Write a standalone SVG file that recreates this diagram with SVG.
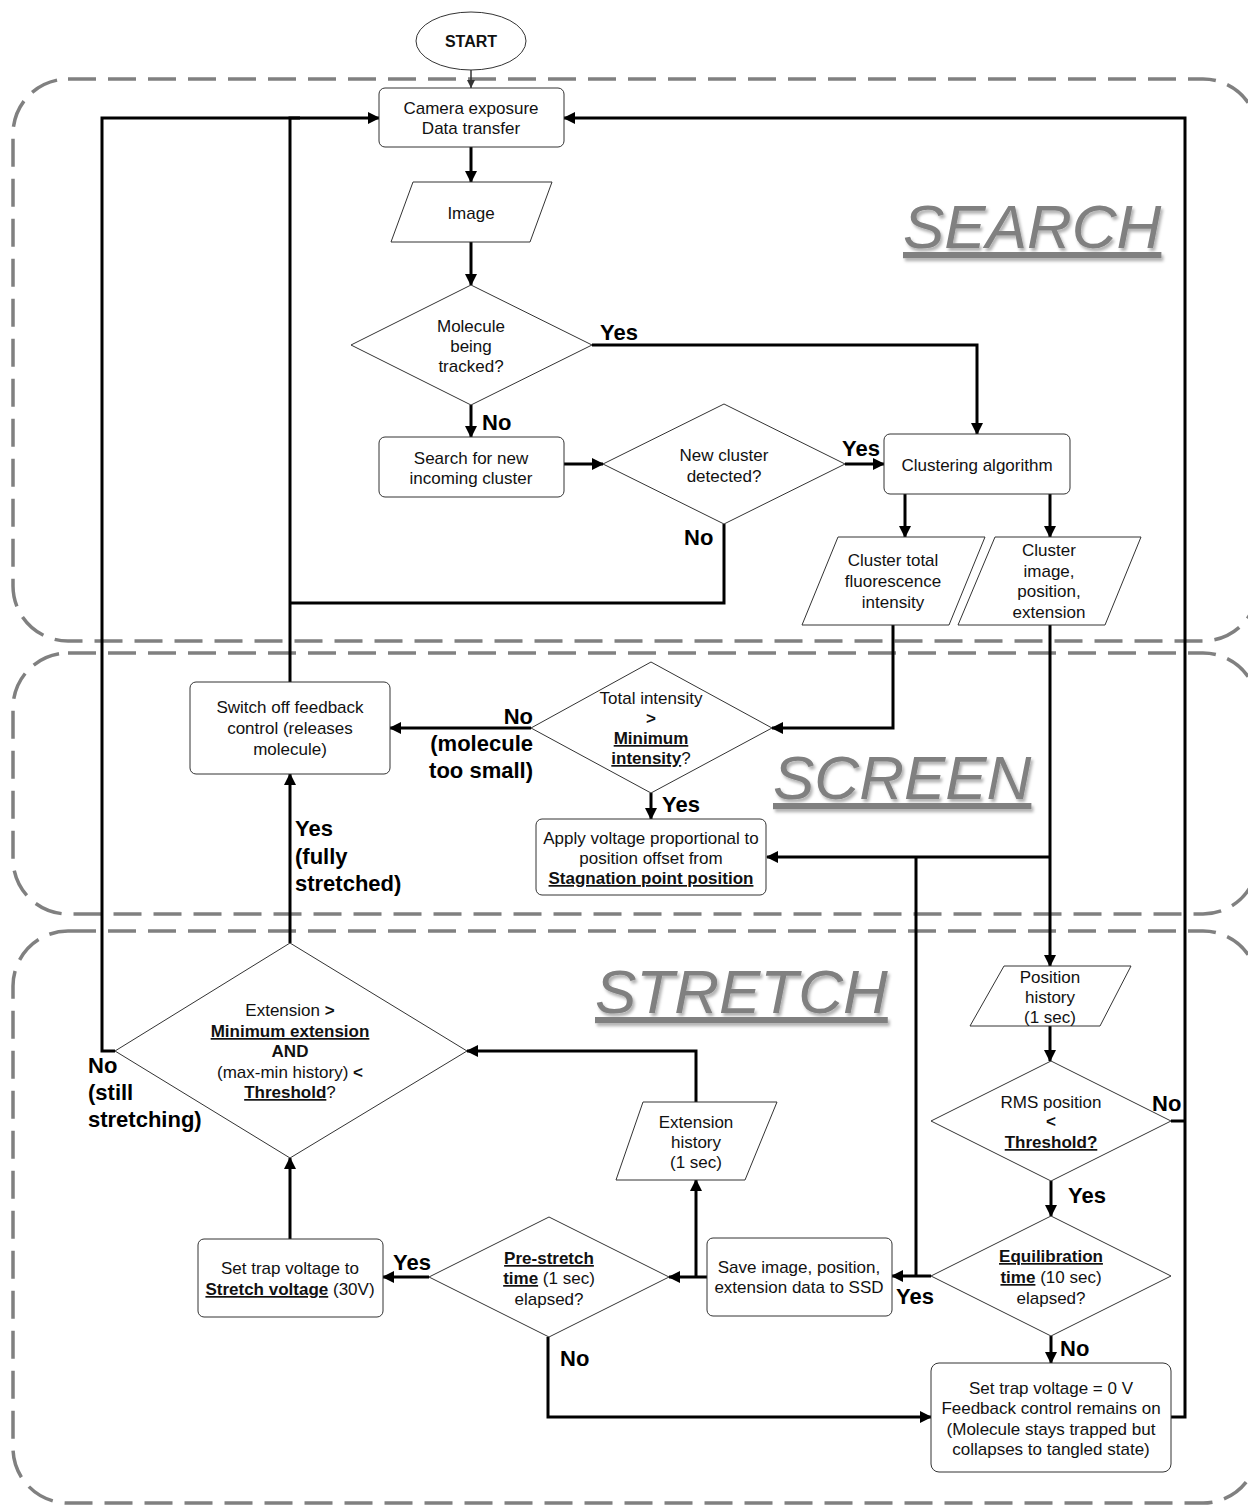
<svg xmlns="http://www.w3.org/2000/svg" width="1248" height="1505" viewBox="0 0 1248 1505">
<style>
.region{fill:none;stroke:#808080;stroke-width:3.5;stroke-dasharray:28 12}
.rlabel{font-family:"Liberation Sans",Arial,sans-serif;font-size:62px;font-style:italic;fill:#808080;text-decoration:underline}
.node{fill:#fff;stroke:#333;stroke-width:1}
.t{font-family:"Liberation Sans",Arial,sans-serif;font-size:17px;fill:#111;text-anchor:middle}
.b{font-weight:bold}
.u{text-decoration:underline}
.c{fill:none;stroke:#000;stroke-width:3}
.lbl{font-family:"Liberation Sans",Arial,sans-serif;font-size:22px;font-weight:bold;fill:#000}
</style>
<defs>
<marker id="ah" viewBox="0 0 12 12" refX="11" refY="6" markerWidth="12" markerHeight="12" markerUnits="userSpaceOnUse" orient="auto"><path d="M0,0 L12,6 L0,12 z" fill="#000"/></marker>
<marker id="ahs" viewBox="0 0 8 8" refX="8" refY="4" markerWidth="8" markerHeight="8" markerUnits="userSpaceOnUse" orient="auto"><path d="M0,0 L8,4 L0,8 z" fill="#333"/></marker>
<filter id="sh" x="-10%" y="-20%" width="130%" height="150%"><feDropShadow dx="2" dy="3" stdDeviation="1.5" flood-color="#000" flood-opacity="0.3"/></filter>
</defs>
<rect width="1248" height="1505" fill="#fff"/>
<g id="regions">
<rect class="region" x="13" y="79" width="1245" height="562" rx="55" ry="55"/>
<rect class="region" x="13" y="653" width="1245" height="261" rx="55" ry="55"/>
<rect class="region" x="13" y="931" width="1245" height="572" rx="55" ry="55"/>
<text class="rlabel" x="903" y="248" filter="url(#sh)">SEARCH</text>
<text class="rlabel" x="773" y="799" filter="url(#sh)">SCREEN</text>
<text class="rlabel" x="595" y="1013" filter="url(#sh)">STRETCH</text>
</g>
<g id="connectors">
<path d="M471,70 V88" fill="none" stroke="#333" stroke-width="1.5" marker-end="url(#ahs)"/>
<path class="c" d="M471,147 V182" marker-end="url(#ah)"/>
<path class="c" d="M471,242 V285" marker-end="url(#ah)"/>
<path class="c" d="M592,345 H977 V434" marker-end="url(#ah)"/>
<path class="c" d="M471,405 V437" marker-end="url(#ah)"/>
<path class="c" d="M564,464 H603" marker-end="url(#ah)"/>
<path class="c" d="M845,464 H884" marker-end="url(#ah)"/>
<path class="c" d="M724,524 V603 H290"/>
<path class="c" d="M905,494 V537" marker-end="url(#ah)"/>
<path class="c" d="M1050,494 V537" marker-end="url(#ah)"/>
<path class="c" d="M893,625 V728 H772" marker-end="url(#ah)"/>
<path class="c" d="M1050,625 V966" marker-end="url(#ah)"/>
<path class="c" d="M1050,857 H767" marker-end="url(#ah)"/>
<path class="c" d="M916,857 V1276"/>
<path class="c" d="M931,1276 H892" marker-end="url(#ah)"/>
<path class="c" d="M531,728 H390" marker-end="url(#ah)"/>
<path class="c" d="M651,793 V819" marker-end="url(#ah)"/>
<path class="c" d="M290,682 V118 H379" marker-end="url(#ah)"/>
<path class="c" d="M290,943 V774" marker-end="url(#ah)"/>
<path class="c" d="M115,1051 H102 V118 H300"/>
<path class="c" d="M1171,1121 H1185"/>
<path class="c" d="M1171,1417 H1185 V118 H564" marker-end="url(#ah)"/>
<path class="c" d="M1050,1026 V1061" marker-end="url(#ah)"/>
<path class="c" d="M1051,1181 V1216" marker-end="url(#ah)"/>
<path class="c" d="M1051,1336 V1363" marker-end="url(#ah)"/>
<path class="c" d="M548,1337 V1417 H931" marker-end="url(#ah)"/>
<path class="c" d="M707,1277 H669" marker-end="url(#ah)"/>
<path class="c" d="M696,1277 V1180" marker-end="url(#ah)"/>
<path class="c" d="M696,1102 V1051 H467" marker-end="url(#ah)"/>
<path class="c" d="M429,1277 H383" marker-end="url(#ah)"/>
<path class="c" d="M290,1239 V1158" marker-end="url(#ah)"/>
<text class="lbl" x="600" y="340">Yes</text>
<text class="lbl" x="482" y="430">No</text>
<text class="lbl" x="842" y="456">Yes</text>
<text class="lbl" x="684" y="545">No</text>
<text class="lbl" text-anchor="end"><tspan x="533" y="724">No</tspan><tspan x="533" y="751">(molecule</tspan><tspan x="533" y="778">too small)</tspan></text>
<text class="lbl" x="662" y="812">Yes</text>
<text class="lbl"><tspan x="295" y="836">Yes</tspan><tspan x="295" y="864">(fully</tspan><tspan x="295" y="891">stretched)</tspan></text>
<text class="lbl"><tspan x="88" y="1073">No</tspan><tspan x="88" y="1100">(still</tspan><tspan x="88" y="1127">stretching)</tspan></text>
<text class="lbl" x="393" y="1270">Yes</text>
<text class="lbl" x="560" y="1366">No</text>
<text class="lbl" x="896" y="1304">Yes</text>
<text class="lbl" x="1068" y="1203">Yes</text>
<text class="lbl" x="1152" y="1111">No</text>
<text class="lbl" x="1060" y="1356">No</text>
</g>
<g id="start"><ellipse class="node" cx="471" cy="41" rx="55" ry="29"/><text class="t b" x="471" y="47" style="font-size:16px">START</text></g>
<g id="camera"><rect class="node" x="379" y="88" width="185" height="59" rx="6"/><text class="t"><tspan x="471" y="114">Camera exposure</tspan><tspan x="471" y="134">Data transfer</tspan></text></g>
<g id="image"><polygon class="node" points="413,182 552,182 530,242 391,242"/><text class="t" x="471" y="219">Image</text></g>
<g id="tracked"><polygon class="node" points="471,285 592,345 471,405 351,345"/><text class="t"><tspan x="471" y="332">Molecule</tspan><tspan x="471" y="352">being</tspan><tspan x="471" y="372">tracked?</tspan></text></g>
<g id="search"><rect class="node" x="379" y="437" width="185" height="60" rx="6"/><text class="t"><tspan x="471" y="464">Search for new</tspan><tspan x="471" y="484">incoming cluster</tspan></text></g>
<g id="newcluster"><polygon class="node" points="724,404 845,464 724,524 603,464"/><text class="t"><tspan x="724" y="461">New cluster</tspan><tspan x="724" y="482">detected?</tspan></text></g>
<g id="clustering"><rect class="node" x="884" y="434" width="186" height="60" rx="6"/><text class="t" x="977" y="471">Clustering algorithm</text></g>
<g id="intensity"><polygon class="node" points="838,537 985,537 949,625 802,625"/><text class="t"><tspan x="893" y="566">Cluster total</tspan><tspan x="893" y="587">fluorescence</tspan><tspan x="893" y="608">intensity</tspan></text></g>
<g id="clusterdata"><polygon class="node" points="995,537 1141,537 1105,625 958,625"/><text class="t"><tspan x="1049" y="556">Cluster</tspan><tspan x="1049" y="577">image,</tspan><tspan x="1049" y="597">position,</tspan><tspan x="1049" y="618">extension</tspan></text></g>
<g id="switchoff"><rect class="node" x="190" y="682" width="200" height="92" rx="6"/><text class="t"><tspan x="290" y="713">Switch off feedback</tspan><tspan x="290" y="734">control (releases</tspan><tspan x="290" y="755">molecule)</tspan></text></g>
<g id="totalint"><polygon class="node" points="651,662 772,728 651,793 531,728"/><text class="t"><tspan x="651" y="704">Total intensity</tspan><tspan x="651" y="724" class="b">&gt;</tspan><tspan x="651" y="744" class="b u">Minimum</tspan><tspan x="651" y="764"><tspan class="b u">intensity</tspan>?</tspan></text></g>
<g id="apply"><rect class="node" x="536" y="819" width="230" height="76" rx="6"/><text class="t"><tspan x="651" y="844">Apply voltage proportional to</tspan><tspan x="651" y="864">position offset from</tspan><tspan x="651" y="884" class="b u">Stagnation point position</tspan></text></g>
<g id="poshistory"><polygon class="node" points="1004,966 1131,966 1100,1026 970,1026"/><text class="t"><tspan x="1050" y="983">Position</tspan><tspan x="1050" y="1003">history</tspan><tspan x="1050" y="1023">(1 sec)</tspan></text></g>
<g id="rms"><polygon class="node" points="1051,1061 1171,1121 1051,1181 931,1121"/><text class="t"><tspan x="1051" y="1108">RMS position</tspan><tspan x="1051" y="1127" class="b">&lt;</tspan><tspan x="1051" y="1148" class="b u">Threshold?</tspan></text></g>
<g id="equil"><polygon class="node" points="1051,1216 1171,1276 1051,1336 931,1276"/><text class="t"><tspan x="1051" y="1262" class="b u">Equilibration</tspan><tspan x="1051" y="1283"><tspan class="b u">time</tspan> (10 sec)</tspan><tspan x="1051" y="1304">elapsed?</tspan></text></g>
<g id="zerov"><rect class="node" x="931" y="1363" width="240" height="109" rx="8"/><text class="t"><tspan x="1051" y="1394">Set trap voltage = 0 V</tspan><tspan x="1051" y="1414">Feedback control remains on</tspan><tspan x="1051" y="1435">(Molecule stays trapped but</tspan><tspan x="1051" y="1455">collapses to tangled state)</tspan></text></g>
<g id="extcheck"><polygon class="node" points="290,943 467,1051 290,1158 115,1051"/><text class="t"><tspan x="290" y="1016">Extension <tspan class="b">&gt;</tspan></tspan><tspan x="290" y="1037" class="b u">Minimum extension</tspan><tspan x="290" y="1057" class="b">AND</tspan><tspan x="290" y="1078">(max-min history) <tspan class="b">&lt;</tspan></tspan><tspan x="290" y="1098"><tspan class="b u">Threshold</tspan>?</tspan></text></g>
<g id="exthistory"><polygon class="node" points="643,1102 777,1102 745,1180 616,1180"/><text class="t"><tspan x="696" y="1128">Extension</tspan><tspan x="696" y="1148">history</tspan><tspan x="696" y="1168">(1 sec)</tspan></text></g>
<g id="prestretch"><polygon class="node" points="549,1217 669,1277 549,1337 429,1277"/><text class="t"><tspan x="549" y="1264" class="b u">Pre-stretch</tspan><tspan x="549" y="1284"><tspan class="b u">time</tspan> (1 sec)</tspan><tspan x="549" y="1305">elapsed?</tspan></text></g>
<g id="save"><rect class="node" x="707" y="1238" width="185" height="78" rx="6"/><text class="t"><tspan x="799" y="1273">Save image, position,</tspan><tspan x="799" y="1293">extension data to SSD</tspan></text></g>
<g id="stretchv"><rect class="node" x="198" y="1239" width="185" height="78" rx="6"/><text class="t"><tspan x="290" y="1274">Set trap voltage to</tspan><tspan x="290" y="1295"><tspan class="b u">Stretch voltage</tspan> (30V)</tspan></text></g>
</svg>
